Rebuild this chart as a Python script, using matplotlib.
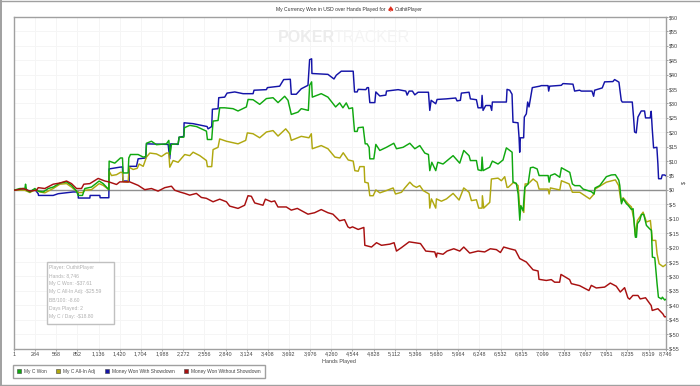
import matplotlib
matplotlib.use("Agg")
import matplotlib.pyplot as plt
from matplotlib.patches import Patch, Rectangle

plt.rcParams["font.family"] = ["Liberation Sans", "DejaVu Sans"]

# =========================================================
# DATA
# =========================================================
x_ticks = [1, 284, 568, 852, 1136, 1420, 1704, 1988, 2272, 2556, 2840, 3124, 3408, 3692, 3976, 4260,
           4544, 4828, 5112, 5396, 5680, 5964, 6248, 6532, 6815, 7099, 7383, 7667, 7951, 8235, 8519, 8746]
y_ticks = list(range(-55, 65, 5))

blue_hands = [1, 13, 147, 214, 281, 326, 330, 527, 594, 795, 862, 864, 1019, 1023, 1153, 1157, 1274, 1278, 1421, 1457, 1462, 1547, 1549,
              1645, 1667, 1770, 1779, 2070, 2092, 2105, 2204, 2217, 2280, 2284, 2405, 2593, 2606, 2655, 2664, 2740, 2749,
              2829, 2861, 2964, 3076, 3210, 3223, 3389, 3402, 3567, 3621, 3710, 3723, 3790, 3857, 3947, 3969, 3996, 4000,
              4215, 4296, 4327, 4394, 4554, 4572, 4607, 4621, 4724, 4741, 4759, 4777, 4844, 4858, 4911, 4992, 5001, 5157,
              5260, 5278, 5305, 5349, 5381, 5425, 5564, 5582, 5600, 5662, 5680, 5805, 5930, 5948, 5993, 6006, 6109, 6127,
              6208, 6230, 6275, 6284, 6297, 6333, 6395, 6413, 6422, 6610, 6619, 6655, 6686, 6699, 6766, 6780, 6789, 6798,
              6842, 6851, 6878, 6896, 6914, 6958, 7057, 7079, 7169, 7178, 7191, 7347, 7370, 7504, 7526, 7593, 7616, 7759,
              7781, 7795, 7897, 7929, 8040, 8063, 8121, 8152, 8165, 8300, 8317, 8331, 8353, 8376, 8420, 8465, 8478, 8541,
              8554, 8568, 8586, 8630, 8644, 8653, 8689, 8702, 8733, 8746]
blue_won = [0, 0, 0.3, -0.5, 0.2, -1.3, -1.9, -1.9, -1.3, -0.7, -0.7, -2.8, -2.8, -1.9, -1.9, -2.7, -2.7, 7.3, 7.9, 8.0, 3.1, 3.1, 8.2,
            8.2, 10.8, 11.1, 16, 15.8, 10.8, 16, 15.8, 18.3, 18.6, 23.3, 23, 22, 21.2, 22, 28, 28.2, 32,
            32.2, 33.6, 34, 33.4, 33.4, 34.6, 34.8, 35.5, 36, 38.3, 38.4, 33.2, 33.2, 35.1, 36.3, 45.2, 45.5, 40.4,
            40.1, 38.5, 39.8, 41.2, 41.2, 34, 34, 34.9, 34.8, 35.5, 35.5, 30.3, 30.3, 34, 32.6, 32.9, 34.3, 34.8,
            34.3, 32.9, 34.3, 34.3, 33, 33.9, 33.9, 27.6, 31.1, 29.9, 31.4, 31.6, 31.9, 30.9, 31.1, 33.6, 33.9, 31.6,
            31.3, 28.5, 28.5, 32.8, 27.6, 29.3, 29.3, 27.6, 30.5, 30.5, 34.9, 34.6, 33.2, 23.5, 23.3, 18.3, 13.1, 18.1,
            18.1, 25.3, 26.4, 30.5, 28.8, 35.5, 36, 36.2, 36.2, 34.3, 36, 36.3, 36.9, 36.7, 34.3, 34.6, 34.3, 34.3,
            32.5, 34.6, 35.4, 37.5, 37.6, 38.3, 37.4, 31.1, 30.5, 30.5, 25.3, 20.1, 19.8, 25.3, 27.4, 27.4, 25, 25,
            27.3, 21.2, 14.6, 14.8, 9, 3.9, 3.9, 5.2, 5.2, 5]

green_hands = [1, 13, 80, 147, 156, 170, 214, 281, 326, 393, 460, 527, 617, 706, 773, 840, 862, 920, 952, 1041, 1144, 1198, 1274,
               1278, 1354, 1430, 1457, 1466, 1533, 1542, 1564, 1667, 1735, 1770, 1779, 1846, 1913, 2047, 2079, 2096, 2114,
               2204, 2217, 2280, 2289, 2360, 2450, 2584, 2597, 2655, 2673, 2740, 2762, 2829, 2941, 3008, 3120, 3143, 3210,
               3299, 3389, 3478, 3545, 3634, 3679, 3723, 3813, 3857, 3952, 3969, 3996, 4005, 4125, 4215, 4318, 4372, 4416,
               4461, 4497, 4545, 4572, 4607, 4621, 4688, 4715, 4741, 4768, 4777, 4831, 4858, 4911, 5001, 5099, 5135, 5224,
               5314, 5381, 5448, 5515, 5564, 5582, 5609, 5662, 5689, 5760, 5895, 5984, 6038, 6109, 6127, 6208, 6230, 6275,
               6284, 6297, 6386, 6422, 6498, 6565, 6610, 6687, 6699, 6744, 6768, 6790, 6804, 6835, 6857, 6902, 6933, 6969,
               7023, 7049, 7170, 7184, 7201, 7260, 7327, 7349, 7461, 7496, 7528, 7595, 7640, 7751, 7787, 7800, 7863, 7952,
               8019, 8073, 8119, 8132, 8155, 8177, 8222, 8244, 8289, 8311, 8324, 8342, 8356, 8369, 8400, 8423, 8454, 8490,
               8534, 8557, 8570, 8602, 8633, 8651, 8691, 8704, 8736, 8746]
green_won = [0, 0, 0.5, 0.5, 2, -0.1, -0.7, 0.5, -0.4, -0.7, 0.5, 1, 2.4, 2.8, 1.6, -0.4, -1.9, -1.9, 0.5, 1, 3.1, 2.2, 0.1,
             10, 9.3, 11.1, 11.1, 5.9, 5.9, 11.1, 12.3, 12.3, 11.4, 11.6, 16.2, 16.9, 15.7, 16, 17.2, 12.3, 15.8,
             16, 18.3, 18.3, 21.6, 22.4, 22, 20.4, 17.5, 17.5, 23.9, 24.1, 28.5, 28.5, 28.2, 27.4, 28.8, 31.4, 31.3,
             29.7, 31.7, 32, 30.3, 32.5, 31.1, 26.2, 27, 28.2, 27.6, 36.3, 37.5, 32.2, 33.4, 32.2, 28.8, 30.2, 28.5,
             30.2, 28.2, 28.5, 20.3, 20.3, 21.6, 21.8, 16, 16, 14.8, 10.8, 10.8, 15.8, 13.7, 14.8, 16.2, 14.3, 14.8,
             16.2, 14.3, 15.4, 12.8, 12.3, 6.7, 9.6, 6.7, 9.6, 9, 11.9, 9.3, 13.7, 11.9, 10.2, 10.2, 7, 6.7,
             11.4, 6.7, 7.9, 10, 9, 10.4, 14.6, 13.1, 2.7, 2.3, -1.4, -10.5, -5.5, -7.2, 0.9, 2.1, 7.7, 7.9,
             7.3, 5, 5, 2.7, 5, 5.6, 4.4, 7.7, 6.1, 2.1, 1.5, 1.5, 0.3, -0.6, -1.4, 0.7, 1.5, 4.6,
             5.2, 5.3, 3.4, 1.6, -4.8, -3, -4.8, -5.3, -6.8, -6.5, -11.1, -16.4, -16.4, -11.7, -10.6, -8.5, -8.5, -12.3,
             -13.5, -14, -23.3, -23.5, -32.6, -37.2, -37.8, -37.2, -38.2, -38]

olive_hands = [1, 13, 147, 214, 281, 348, 415, 482, 527, 617, 706, 773, 840, 862, 920, 952, 1041, 1144, 1198, 1274,
               1278, 1310, 1377, 1430, 1457, 1466, 1533, 1547, 1600, 1654, 1681, 1735, 1779, 1824, 1913, 1980, 2047, 2079,
               2092, 2137, 2204, 2293, 2360, 2405, 2495, 2584, 2597, 2655, 2673, 2740, 2762, 2852, 3008, 3111, 3133, 3210,
               3299, 3389, 3478, 3545, 3648, 3701, 3723, 3857, 3960, 3992, 4005, 4125, 4215, 4308, 4375, 4420, 4487, 4554,
               4576, 4621, 4643, 4701, 4710, 4755, 4777, 4822, 4858, 4912, 5001, 5090, 5122, 5202, 5247, 5314, 5359, 5403,
               5448, 5493, 5573, 5582, 5604, 5662, 5671, 5738, 5806, 5895, 5975, 6038, 6109, 6141, 6208, 6239, 6284, 6288,
               6306, 6387, 6409, 6498, 6543, 6588, 6619, 6634, 6710, 6768, 6790, 6804, 6844, 6862, 6902, 6969, 7023, 7049,
               7170, 7184, 7201, 7327, 7349, 7452, 7496, 7595, 7729, 7787, 7800, 7952, 8073, 8118, 8140, 8155, 8177, 8244,
               8289, 8324, 8342, 8369, 8400, 8445, 8490, 8543, 8570, 8615, 8633, 8660, 8713, 8736, 8746]
olive_won = [0, 0, -0.1, -0.9, 0.1, -0.7, -1, -0.1, 0.5, 2, 2.2, 1, -0.4, -0.9, -0.9, -0.1, 0.1, 2.2, 1.6, 0.1,
             6.5, 5, 5.3, 6.1, 6.1, 2.9, 2.7, 7.9, 7.1, 7.5, 9, 8.2, 11.4, 12.8, 12.5, 11.6, 12.8, 12.8,
             7.9, 10.2, 9.6, 12.3, 11.9, 13.1, 11.9, 10.2, 8.1, 8.1, 14, 14.8, 17.7, 16.9, 16, 17.2, 19.8, 19.5,
             18.1, 20.1, 20.6, 18.7, 21.2, 19.5, 17.2, 18.6, 18.1, 19.5, 14.3, 15.4, 14.3, 11.4, 11.1, 12.9, 10.4, 10,
             6.7, 6.5, 8.1, 8.1, 2.7, 2.4, -2, -2, 0, -1, -0.2, 0.7, -1.4, -0.8, 0.7, 2.7, 1.5, 0.9,
             1.5, -0.2, -1.4, -6.3, -3.1, -6.3, -3.1, -3.9, -3.1, -1.2, -3.5, 0.7, -0.8, -3.7, -3.4, -6.3, -6.3, -2,
             -6.3, -4.3, 3.8, 4.1, 3.2, 4.6, 0.9, 0.9, 2.7, 1.5, -6.6, -5.5, -7.8, 2.1, 2.1, 3.8, 2.7, 0.3,
             0.3, -1.4, 0.7, 0, 3.2, 2.1, -0.8, -0.8, -3.1, -1.4, 0.3, 2.7, 3.5, 1.5, -2.6, -4.2, -2.7, -4.8,
             -5.9, -10.6, -15.8, -10.6, -9.4, -7.7, -11.1, -10.6, -17.5, -17.5, -22.2, -25.6, -26.6, -26.2, -26]

red_hands = [1, 13, 125, 214, 304, 326, 415, 527, 617, 706, 773, 840, 907, 938, 1019, 1131, 1220, 1274, 1377, 1421, 1555, 1667,
             1756, 1846, 1935, 2025, 2114, 2159, 2226, 2293, 2360, 2449, 2516, 2583, 2673, 2762, 2852, 2896, 3008, 3097,
             3142, 3187, 3232, 3343, 3375, 3455, 3500, 3544, 3656, 3723, 3804, 3947, 4036, 4125, 4215, 4282, 4371, 4438,
             4483, 4509, 4545, 4621, 4697, 4710, 4800, 4867, 4934, 5045, 5103, 5135, 5202, 5305, 5457, 5528, 5649, 5671,
             5680, 5760, 5814, 5904, 5984, 6038, 6118, 6230, 6319, 6395, 6476, 6530, 6574, 6655, 6731, 6789, 6878, 6968,
             7035, 7048, 7146, 7213, 7258, 7325, 7343, 7459, 7482, 7593, 7718, 7750, 7817, 7929, 8005, 8085, 8139, 8197,
             8241, 8264, 8308, 8376, 8407, 8478, 8554, 8568, 8644, 8711, 8733, 8746]
red_won = [0, -0.1, 0.5, -0.4, -0.1, 0.8, 0.5, 2, 2.4, 3.1, 2.2, 0.5, 0.5, 2, 2.2, 4, 3.1, 2.8, 1.9, 2.8, 2.8, 1.6,
           0.1, 0.5, -0.4, 0.8, 1.3, -0.1, -0.7, -1.2, -1.8, -1.2, -2.6, -2.9, -4.1, -3.2, -4.1, -5.6, -6.4, -5.3,
           -2, -2.2, -4.5, -5.3, -3.2, -4.1, -3.8, -5.9, -5.9, -7, -6.4, -8.4, -7.9, -6.8, -7.9, -8.4, -10.7, -10.3,
           -12.8, -13.2, -12.8, -13.7, -13, -19.2, -19.8, -18.3, -19.2, -18.8, -18.3, -21.2, -20, -18, -18.6, -21.2, -21.5, -23.3,
           -21.9, -22.3, -21.2, -20.4, -21.2, -19.8, -21.9, -21.2, -21.5, -20.4, -20.7, -21.7, -19.8, -20.4, -20.9, -23.8, -25, -27.7,
           -28.1, -31, -31.4, -31.1, -32, -32, -29.3, -31.1, -32.5, -33.2, -34.9, -33.1, -34, -33.7, -32.3, -33.4, -35.4, -33.9,
           -37.4, -37.9, -36.6, -36.6, -37.8, -37.4, -40.1, -41.8, -41.2, -43, -44, -44]

info_lines = ["Player: OuthitPlayer", "Hands: 8,746", "My C Won: -$37.61", "My C All-In Adj: -$25.59",
              "BB/100: -8.60", "Days Played: 2", "My C / Day: -$18.80"]

BLUE = "#1414a8"
GREEN = "#10a810"
OLIVE = "#b0a810"
RED = "#a81010"
TEXT = "#444444"
EDGE = "#a0a0a0"

W, H = 700, 386


def fx(px):
    return px / W


def fy(py):
    return 1 - py / H


# =========================================================
# FIGURE
# =========================================================
fig = plt.figure(figsize=(W / 100, H / 100), dpi=100)
ax = fig.add_axes([fx(14), fy(348.5), fx(665.5 - 14), (348.5 - 17) / H])

ax.plot(blue_hands, blue_won, color=BLUE, lw=1.05, zorder=3)
ax.plot(olive_hands, olive_won, color=OLIVE, lw=1.05, zorder=4)
ax.plot(green_hands, green_won, color=GREEN, lw=1.05, zorder=5)
ax.plot(red_hands, red_won, color=RED, lw=1.05, zorder=6)
ax.axhline(0, color="#909090", lw=1.0, zorder=2)

ax.set_xlim(1, 8746)
ax.set_ylim(-55, 60)
ax.set_xticks(x_ticks)
ax.set_xticklabels([f"{v:,}" for v in x_ticks])
ax.set_yticks(y_ticks)
ax.set_yticklabels([f"${v}" for v in y_ticks])
ax.yaxis.tick_right()
ax.tick_params(axis="both", labelsize=3.9, labelcolor=TEXT, color="#808080", length=1.5, width=0.5, pad=0.8)
ax.grid(True, color="#f5f5f5", lw=0.7)
ax.set_axisbelow(True)
for side in ax.spines.values():
    side.set_color(EDGE)
    side.set_linewidth(1.0)

# watermark
ax.text(0.405, 0.9375, "POKER", transform=ax.transAxes, fontsize=11.5, fontweight="bold",
        color="#ececec", ha="left", va="center", zorder=1)
ax.text(0.491, 0.9375, "TRACKER", transform=ax.transAxes, fontsize=11.5,
        color="#f4f4f4", ha="left", va="center", zorder=1)

# title, with the red logo between the two parts
fig.text(fx(386), fy(9.5), "My Currency Won in USD over Hands Played for", fontsize=3.65,
         color="#333333", ha="right", va="center")
fig.text(fx(390), fy(9.5), "\u2660", fontsize=6, color="#e03020", ha="center", va="center",
         family=["DejaVu Sans"])
fig.text(fx(394.7), fy(9.5), "OuthitPlayer", fontsize=3.65, color="#333333", ha="left", va="center")

fig.text(fx(339), fy(361), "Hands Played", fontsize=3.9, color=TEXT, ha="center", va="center")
fig.text(fx(684), fy(182), "$", fontsize=3.9, color=TEXT, ha="center", va="center", rotation=90)

# info box
fig.add_artist(Rectangle((fx(47), fy(324)), fx(66.5), (324 - 262) / H, transform=fig.transFigure,
                         facecolor="white", edgecolor="#c0c0c0", lw=1.0, zorder=8))
for i, line in enumerate(info_lines):
    fig.text(fx(49), fy(267 + i * 8.33), line, fontsize=3.6, color="#b0b0b0", ha="left", va="center", zorder=9)

# legend
handles = [Patch(facecolor=GREEN, edgecolor="#404040", lw=0.4, label="My C Won"),
           Patch(facecolor=OLIVE, edgecolor="#404040", lw=0.4, label="My C All-In Adj"),
           Patch(facecolor=BLUE, edgecolor="#404040", lw=0.4, label="Money Won With Showdown"),
           Patch(facecolor=RED, edgecolor="#404040", lw=0.4, label="Money Won Without Showdown")]
leg = fig.legend(handles=handles, loc="center left", bbox_to_anchor=(fx(13), fy(371.5)), ncol=4, fontsize=3.55,
                 frameon=True, fancybox=False, edgecolor=EDGE, framealpha=1, handlelength=0.8, handleheight=0.8,
                 handletextpad=0.6, columnspacing=1.9, borderpad=0.9, borderaxespad=0, labelcolor=TEXT)
leg.get_frame().set_linewidth(1.0)

# outer frame of the picture
fig.add_artist(plt.Line2D([0.0015, 0.0015], [fy(385), 1], color=EDGE, lw=1.4))
fig.add_artist(plt.Line2D([0, 1], [0.998, 0.998], color=EDGE, lw=1.0))
fig.add_artist(plt.Line2D([0, 1], [fy(384.8), fy(384.8)], color=EDGE, lw=1.0))

fig.savefig("out.png", dpi=100)
